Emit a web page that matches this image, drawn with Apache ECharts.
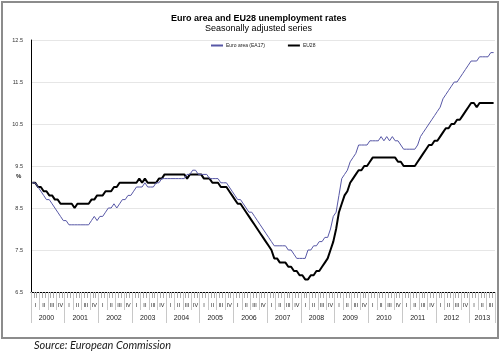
<!DOCTYPE html>
<html>
<head>
<meta charset="utf-8">
<script src="https://cdn.jsdelivr.net/npm/echarts@6/dist/echarts.min.js"></script>
<style>
html,body{margin:0;padding:0;background:#fff;}
#chart{position:absolute;left:0;top:0;width:500px;height:360px;}
#frame{position:absolute;left:1px;top:1px;width:494px;height:334px;border:2px solid #8c8c8c;pointer-events:none;}
</style>
</head>
<body>
<div id="chart"></div>
<div id="frame"></div>
<script>
// ---- data ----
var years = ['2000','2001','2002','2003','2004','2005','2006','2007','2008','2009','2010','2011','2012','2013'];
var quarterNames = ['I','II','III','IV'];
var yTicks = [6.5, 7.5, 8.5, 9.5, 10.5, 11.5, 12.5];

// Euro area (EA17), monthly Jan 2000 - Sep 2013
var euroArea = [
  9.1, 9.1, 9.0, 8.9, 8.8, 8.7, 8.7, 8.6, 8.5, 8.4, 8.3, 8.2,   // 2000
  8.2, 8.1, 8.1, 8.1, 8.1, 8.1, 8.1, 8.1, 8.1, 8.2, 8.3, 8.2,   // 2001
  8.3, 8.3, 8.4, 8.5, 8.5, 8.6, 8.5, 8.6, 8.7, 8.7, 8.8, 8.8,   // 2002
  8.9, 9.0, 9.0, 9.0, 9.1, 9.0, 9.0, 9.0, 9.1, 9.1, 9.2, 9.2,   // 2003
  9.2, 9.2, 9.2, 9.2, 9.2, 9.2, 9.2, 9.3, 9.3, 9.4, 9.4, 9.3,   // 2004
  9.3, 9.3, 9.3, 9.2, 9.2, 9.2, 9.2, 9.1, 9.1, 9.1, 9.0, 8.9,   // 2005
  8.8, 8.7, 8.7, 8.6, 8.5, 8.4, 8.4, 8.3, 8.2, 8.1, 8.0, 7.9,   // 2006
  7.8, 7.7, 7.6, 7.6, 7.6, 7.6, 7.6, 7.5, 7.5, 7.4, 7.3, 7.3,   // 2007
  7.3, 7.3, 7.5, 7.5, 7.6, 7.6, 7.7, 7.7, 7.8, 7.8, 8.0, 8.3,   // 2008
  8.4, 8.8, 9.2, 9.3, 9.4, 9.6, 9.7, 9.8, 10.0, 10.0, 10.0, 10.0, // 2009
  10.1, 10.1, 10.1, 10.1, 10.2, 10.1, 10.2, 10.1, 10.2, 10.1, 10.1, 10.0, // 2010
  9.9, 9.9, 9.9, 9.9, 9.9, 10.0, 10.2, 10.3, 10.4, 10.5, 10.6, 10.7, // 2011
  10.8, 10.9, 11.1, 11.2, 11.3, 11.4, 11.5, 11.5, 11.6, 11.7, 11.8, 11.9, // 2012
  12.0, 12.0, 12.0, 12.1, 12.1, 12.1, 12.1, 12.2, 12.2          // 2013
];

// EU28, monthly Jan 2000 - Sep 2013
var eu28 = [
  9.1, 9.1, 9.0, 9.0, 8.9, 8.9, 8.8, 8.8, 8.7, 8.7, 8.6, 8.6,   // 2000
  8.6, 8.6, 8.6, 8.5, 8.6, 8.6, 8.6, 8.6, 8.6, 8.7, 8.7, 8.8,   // 2001
  8.8, 8.8, 8.9, 8.9, 8.9, 9.0, 9.0, 9.1, 9.1, 9.1, 9.1, 9.1,   // 2002
  9.1, 9.1, 9.2, 9.1, 9.2, 9.1, 9.1, 9.1, 9.1, 9.2, 9.2, 9.3,   // 2003
  9.3, 9.3, 9.3, 9.3, 9.3, 9.3, 9.3, 9.2, 9.3, 9.3, 9.3, 9.3,   // 2004
  9.3, 9.2, 9.2, 9.2, 9.1, 9.1, 9.1, 9.0, 9.0, 9.0, 8.9, 8.8,   // 2005
  8.7, 8.6, 8.6, 8.5, 8.4, 8.3, 8.2, 8.1, 8.0, 7.9, 7.8, 7.7,   // 2006
  7.6, 7.5, 7.3, 7.3, 7.2, 7.2, 7.2, 7.1, 7.1, 7.0, 7.0, 6.9,   // 2007
  6.9, 6.8, 6.8, 6.9, 6.9, 7.0, 7.0, 7.1, 7.2, 7.3, 7.5, 7.7,   // 2008
  8.0, 8.4, 8.6, 8.8, 8.9, 9.1, 9.2, 9.3, 9.4, 9.4, 9.5, 9.5,   // 2009
  9.6, 9.7, 9.7, 9.7, 9.7, 9.7, 9.7, 9.7, 9.7, 9.7, 9.6, 9.6,   // 2010
  9.5, 9.5, 9.5, 9.5, 9.5, 9.6, 9.7, 9.8, 9.9, 10.0, 10.0, 10.1, // 2011
  10.1, 10.2, 10.3, 10.4, 10.4, 10.5, 10.5, 10.6, 10.6, 10.7, 10.8, 10.9, // 2012
  11.0, 11.0, 10.9, 11.0, 11.0, 11.0, 11.0, 11.0, 11.0          // 2013
];

// ---- categories built from the lists above ----
var months = [];
var monthYear = [];
for (var i = 0; i < euroArea.length; i++) {
  var y = years[Math.floor(i / 12)];
  months.push(y + '-' + ((i % 12) + 1));
  monthYear.push(y);
}
var quarters = [];
for (var q = 0; q < Math.ceil(euroArea.length / 3); q++) {
  quarters.push(quarterNames[q % 4]);
}
// month index where each year's label sits (middle of the year's span)
var yearLabelIdx = {};
years.forEach(function (y, k) {
  var start = k * 12;
  var len = Math.min(12, euroArea.length - start);
  yearLabelIdx[start + Math.floor((len - 1) / 2)] = y;
});

var chart = echarts.init(document.getElementById('chart'), null, {renderer: 'canvas'});
chart.setOption({
  animation: false,
  backgroundColor: '#fff',
  title: [
    {text: 'Euro area and EU28 unemployment rates', left: 171, top: 14, padding: 0,
     textStyle: {fontFamily: 'Liberation Sans', fontSize: 9, fontWeight: 'bold', color: '#000'}},
    {text: 'Seasonally adjusted series', left: 205, top: 24, padding: 0,
     textStyle: {fontFamily: 'Liberation Sans', fontSize: 9, fontWeight: 'normal', color: '#000'}},
    {text: '%', left: 16, top: 173, padding: 0,
     textStyle: {fontFamily: 'Liberation Sans', fontSize: 6, fontWeight: 'bold', color: '#222'}},
    {text: 'Source: European Commission', left: 34, top: 340, padding: 0,
     textStyle: {fontFamily: 'Lato', fontSize: 11, fontStyle: 'italic', fontWeight: 'normal', color: '#1a1a1a'}}
  ],
  legend: {
    left: 211, top: 43, padding: 0,
    itemWidth: 12, itemHeight: 2, itemGap: 23,
    icon: 'rect',
    textStyle: {fontFamily: 'Liberation Sans', fontSize: 5, color: '#222', padding: [0, 0, 0, -2]},
    data: ['Euro area (EA17)', 'EU28']
  },
  grid: {left: 31, right: 5, top: 40, bottom: 68},
  xAxis: [
    {
      type: 'category', data: months, boundaryGap: true,
      axisLine: {show: true, lineStyle: {color: '#000', width: 1}},
      axisTick: {show: true, interval: 0, length: 6, lineStyle: {color: '#aaa', width: 1}},
      axisLabel: {show: false},
      splitLine: {show: false}
    },
    {
      type: 'category', data: quarters, boundaryGap: true, position: 'bottom',
      axisLine: {show: false},
      axisTick: {show: true, interval: 0, length: 18, lineStyle: {color: '#c8c8c8', width: 1}},
      axisLabel: {show: true, interval: 0, margin: 10, fontSize: 5.5,
                  fontFamily: 'Liberation Sans', color: '#222'},
      splitLine: {show: false}
    },
    {
      type: 'category', data: monthYear, boundaryGap: true, position: 'bottom',
      axisLine: {show: false},
      axisTick: {show: true, length: 31, lineStyle: {color: '#c8c8c8', width: 1},
                 interval: function (idx) { return idx % 12 === 0; }},
      axisLabel: {show: true, margin: 23, fontSize: 7, fontFamily: 'Liberation Sans', color: '#222',
                  interval: function (idx) { return yearLabelIdx[idx] !== undefined; },
                  formatter: function (v, idx) { return v; }},
      splitLine: {show: false}
    }
  ],
  yAxis: {
    type: 'value', min: yTicks[0], max: yTicks[yTicks.length - 1], interval: 1,
    axisLine: {show: true, lineStyle: {color: '#000', width: 1}},
    axisTick: {show: false},
    axisLabel: {margin: 8, fontSize: 5.5, fontFamily: 'Liberation Sans', color: '#333',
                formatter: function (v) { return v.toFixed(1); }},
    splitLine: {show: true, lineStyle: {color: '#e6e6e6', width: 1}}
  },
  series: [
    {name: 'Euro area (EA17)', type: 'line', data: euroArea, xAxisIndex: 0,
     showSymbol: false, symbol: 'none', lineStyle: {color: '#5757a6', width: 1}, itemStyle: {color: '#5757a6'}, z: 3},
    {name: 'EU28', type: 'line', data: eu28, xAxisIndex: 0,
     showSymbol: false, symbol: 'none', lineStyle: {color: '#000', width: 2}, itemStyle: {color: '#000'}, z: 2}
  ]
});
</script>
</body>
</html>
